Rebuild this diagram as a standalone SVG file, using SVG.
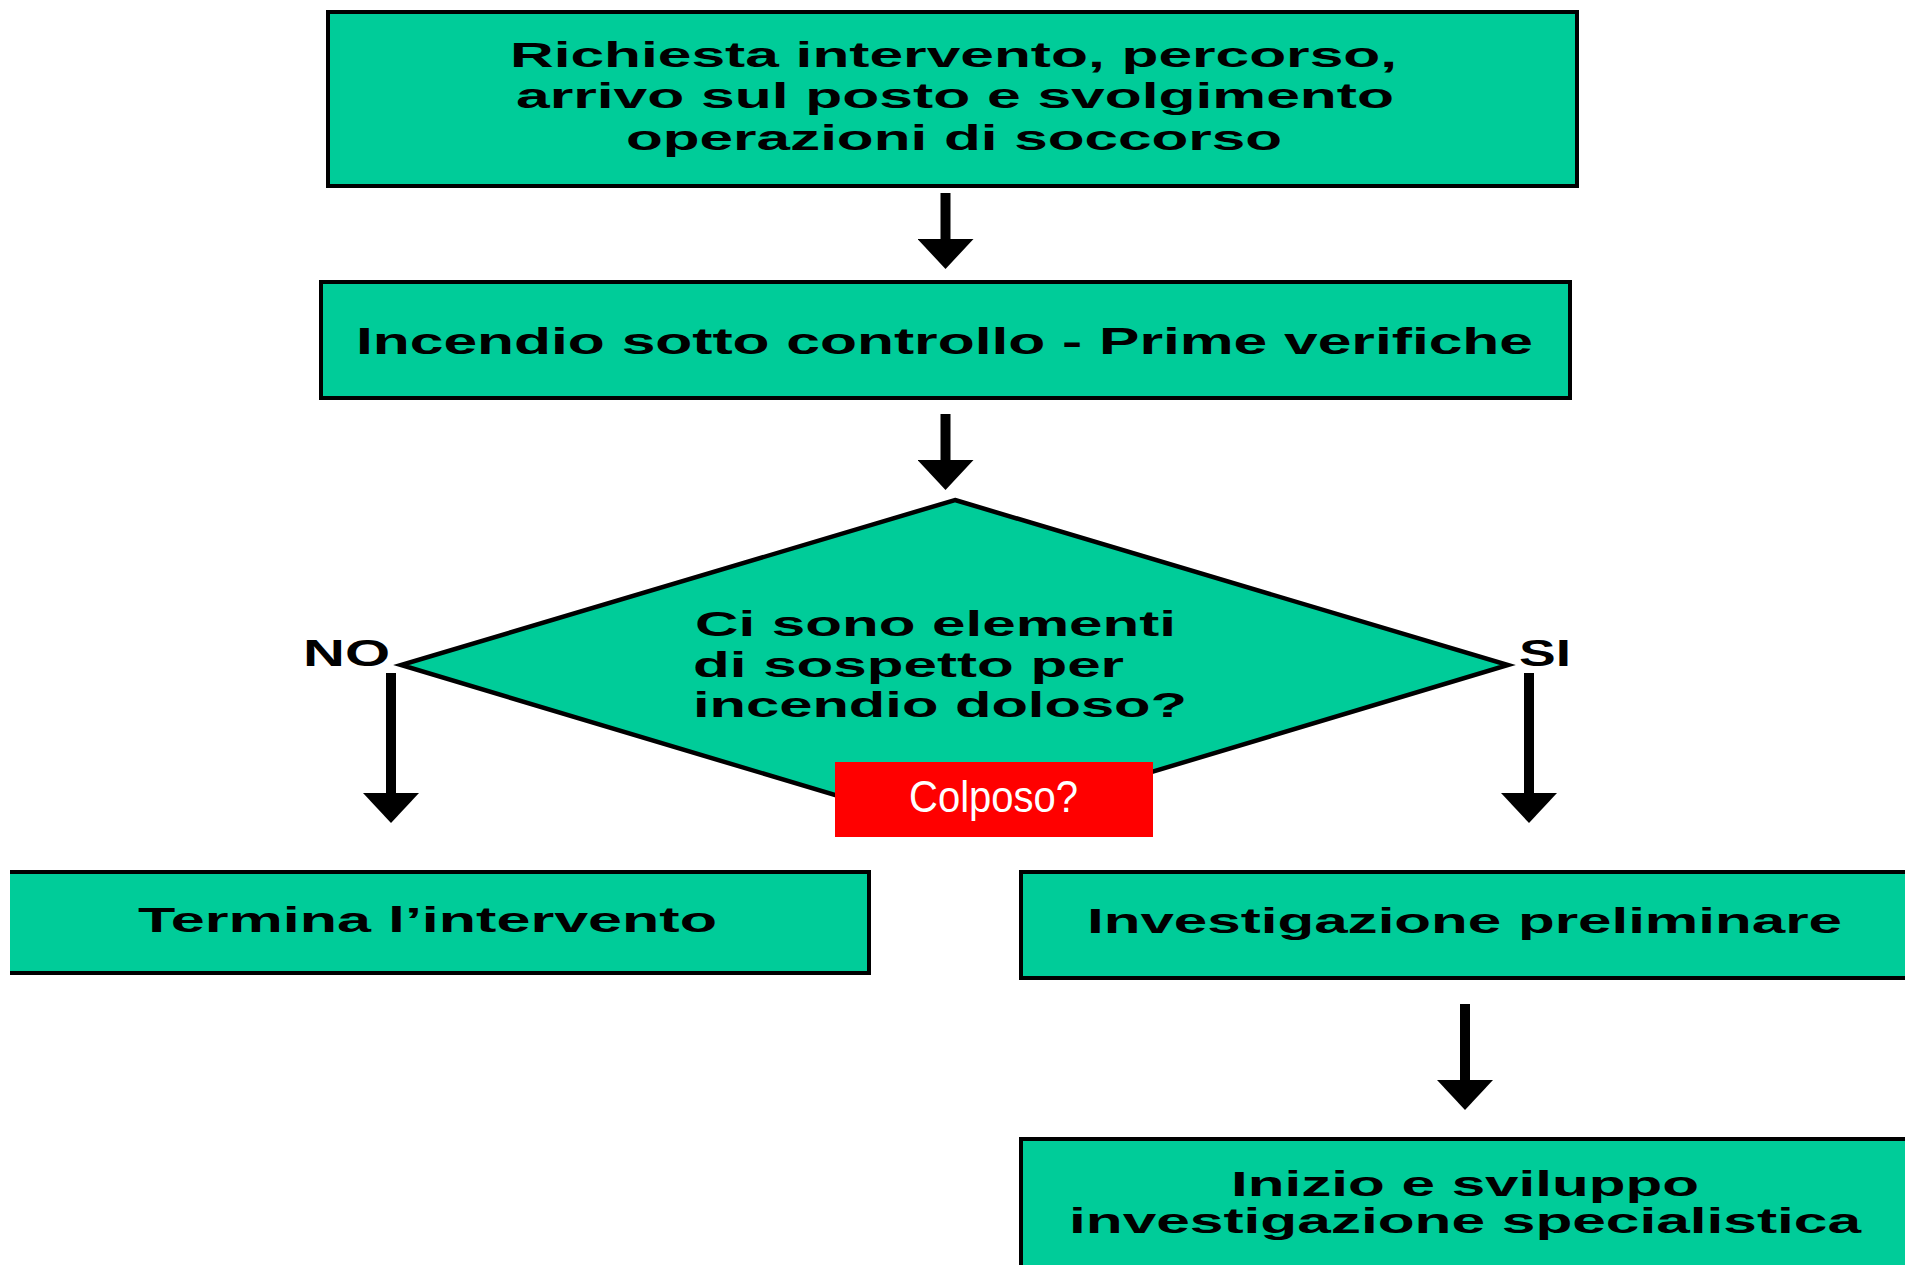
<svg xmlns="http://www.w3.org/2000/svg" width="1905" height="1265" viewBox="0 0 1905 1265">
<style>
.box{fill:#00cc99;stroke:#000;stroke-width:4}
.fill{fill:#00cc99;stroke:none}
.edge{fill:none;stroke:#000;stroke-width:4}
.t{font-family:"Liberation Sans",Arial,sans-serif;font-weight:bold;font-size:35px;fill:#000}
.lbl{font-family:"Liberation Sans",Arial,sans-serif;font-weight:bold;font-size:36px;fill:#000}
.conn{stroke:#000;stroke-width:10;fill:none}
.red{font-family:"Liberation Sans Narrow","Liberation Sans",Arial,sans-serif;font-size:44px;fill:#fff}
</style>
<defs>
<marker id="ah" viewBox="0 0 30 56" markerWidth="30" markerHeight="56" refX="0" refY="28" orient="auto" markerUnits="userSpaceOnUse">
<path d="M0,0 L30,28 L0,56 z" fill="#000"/>
</marker>
</defs>
<rect width="1905" height="1265" fill="#fff"/>

<g id="n1">
<rect class="box" x="328" y="12" width="1249" height="174"/>
<text class="t" x="510" y="67" textLength="887" lengthAdjust="spacingAndGlyphs">Richiesta intervento, percorso,</text>
<text class="t" x="516" y="108" textLength="878" lengthAdjust="spacingAndGlyphs">arrivo sul posto e svolgimento</text>
<text class="t" x="626" y="150" textLength="656" lengthAdjust="spacingAndGlyphs">operazioni di soccorso</text>
</g>

<g id="n2">
<rect class="box" x="321" y="282" width="1249" height="116"/>
<text class="t" style="font-size:36px" x="356" y="354" textLength="1177" lengthAdjust="spacingAndGlyphs">Incendio sotto controllo - Prime verifiche</text>
</g>

<g id="n3">
<polygon points="955,500 1508,665 955,831 401,665" fill="#00cc99" stroke="#000" stroke-width="4.5"/>
<text class="t" x="695" y="636" textLength="481" lengthAdjust="spacingAndGlyphs">Ci sono elementi</text>
<text class="t" x="693" y="677" textLength="431" lengthAdjust="spacingAndGlyphs">di sospetto per</text>
<text class="t" x="693" y="717" textLength="494" lengthAdjust="spacingAndGlyphs">incendio doloso?</text>
</g>

<g id="n4">
<rect class="fill" x="10" y="872" width="859" height="101"/>
<path class="edge" d="M10,872 H869 V973 H10"/>
<text class="t" x="138" y="932" textLength="579" lengthAdjust="spacingAndGlyphs">Termina l’intervento</text>
</g>

<g id="n5">
<rect class="fill" x="1021" y="872" width="884" height="106"/>
<path class="edge" d="M1905,872 H1021 V978 H1905"/>
<text class="t" x="1087" y="933" textLength="755" lengthAdjust="spacingAndGlyphs">Investigazione preliminare</text>
</g>

<g id="n6">
<rect class="fill" x="1021" y="1139" width="884" height="126"/>
<path class="edge" d="M1905,1139 H1021 V1265"/>
<text class="t" x="1231" y="1196" textLength="468" lengthAdjust="spacingAndGlyphs">Inizio e sviluppo</text>
<text class="t" x="1069" y="1233" textLength="792" lengthAdjust="spacingAndGlyphs">investigazione specialistica</text>
</g>

<g id="connectors">
<line class="conn" x1="945.5" y1="193" x2="945.5" y2="239" marker-end="url(#ah)"/>
<line class="conn" x1="945.5" y1="414" x2="945.5" y2="460" marker-end="url(#ah)"/>
<line class="conn" x1="391" y1="673" x2="391" y2="793" marker-end="url(#ah)"/>
<line class="conn" x1="1529" y1="673" x2="1529" y2="793" marker-end="url(#ah)"/>
<line class="conn" x1="1465" y1="1004" x2="1465" y2="1080" marker-end="url(#ah)"/>
<text class="lbl" x="303" y="666" textLength="87" lengthAdjust="spacingAndGlyphs">NO</text>
<text class="lbl" x="1519" y="666" textLength="52" lengthAdjust="spacingAndGlyphs">SI</text>
</g>

<g id="note">
<rect x="835" y="762" width="318" height="75" fill="#ff0000"/>
<text class="red" x="909" y="812" textLength="169" lengthAdjust="spacingAndGlyphs">Colposo?</text>
</g>
</svg>
